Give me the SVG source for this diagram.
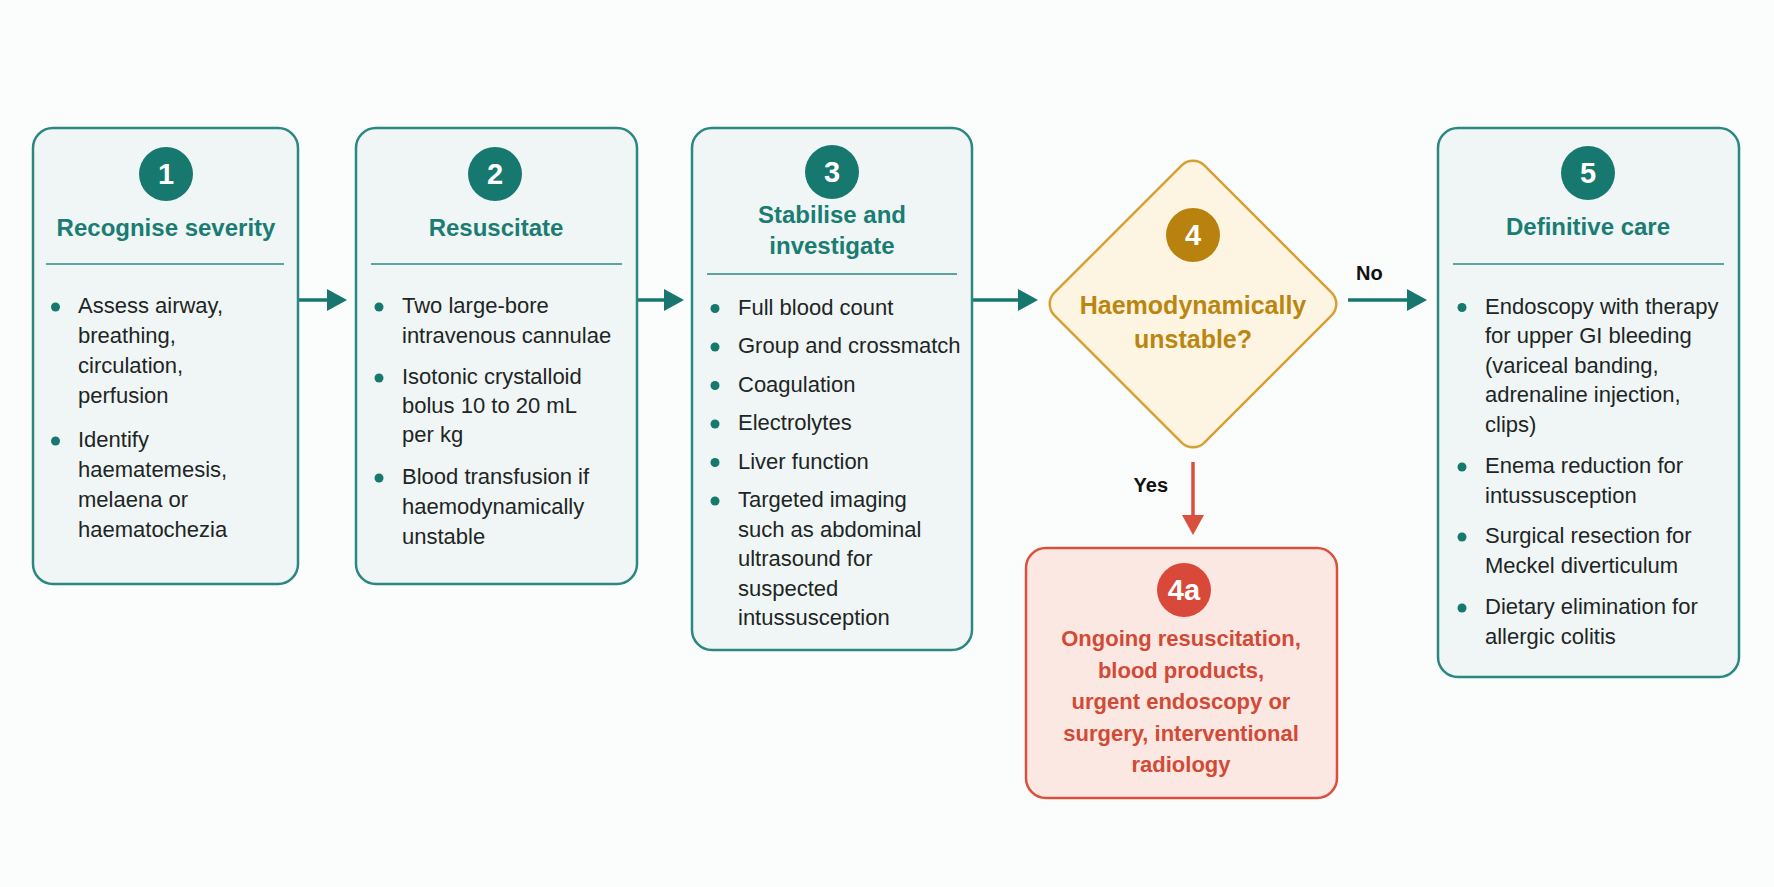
<svg xmlns="http://www.w3.org/2000/svg" width="1774" height="887" viewBox="0 0 1774 887">
<style>
.box{fill:#eff6f5;stroke:#2b8880;stroke-width:2.5}
.num{fill:#17786f}
.numt{font-family:"Liberation Sans",Arial,sans-serif;font-weight:bold;font-size:29px;fill:#ffffff;text-anchor:middle}
.title{font-family:"Liberation Sans",Arial,sans-serif;font-weight:bold;font-size:24px;fill:#1b7c73;text-anchor:middle}
.div{stroke:#2b8880;stroke-width:1.5}
.body{font-family:"Liberation Sans",Arial,sans-serif;font-size:22px;fill:#1e2524}
.dot{fill:#17786f}
.conn{stroke:#17776f;stroke-width:3.5;fill:none}
.yes{stroke:#d9513c;stroke-width:3.5;fill:none}
.lbl{font-family:"Liberation Sans",Arial,sans-serif;font-weight:bold;font-size:20px;fill:#111111}
.dtext{font-family:"Liberation Sans",Arial,sans-serif;font-weight:bold;font-size:25px;fill:#bb860f;text-anchor:middle}
.rtext{font-family:"Liberation Sans",Arial,sans-serif;font-weight:bold;font-size:22px;fill:#d24a35;text-anchor:middle}
</style>
<defs>
<marker id="ah" markerUnits="userSpaceOnUse" markerWidth="22" markerHeight="24" refX="2" refY="11" orient="auto">
<path d="M0,0 L20,11 L0,22 z" fill="#17776f"/>
</marker>
<marker id="ahr" markerUnits="userSpaceOnUse" markerWidth="22" markerHeight="24" refX="2" refY="11" orient="auto">
<path d="M0,0 L20,11 L0,22 z" fill="#d9513c"/>
</marker>
</defs>
<rect x="0" y="0" width="1774" height="887" fill="#fbfcfc"/>

<g id="connectors">
<line class="conn" x1="298" y1="300" x2="329" y2="300" marker-end="url(#ah)"/>
<line class="conn" x1="637" y1="300" x2="666" y2="300" marker-end="url(#ah)"/>
<line class="conn" x1="973" y1="300" x2="1020" y2="300" marker-end="url(#ah)"/>
<line class="conn" x1="1348" y1="300" x2="1409" y2="300" marker-end="url(#ah)"/>
<text class="lbl" x="1356" y="280">No</text>
<line class="yes" x1="1193" y1="462" x2="1193" y2="517" marker-end="url(#ahr)"/>
<text class="lbl" x="1168" y="492" text-anchor="end">Yes</text>
</g>

<g id="node1">
<rect class="box" x="33" y="128" width="265" height="456" rx="20"/>
<circle class="num" cx="166" cy="174" r="27"/>
<text class="numt" x="166" y="184">1</text>
<text class="title" x="166" y="236">Recognise severity</text>
<line class="div" x1="46" y1="264" x2="284" y2="264"/>
<circle class="dot" cx="55.5" cy="307" r="4.5"/>
<text class="body" x="78" y="313">Assess airway,</text>
<text class="body" x="78" y="343">breathing,</text>
<text class="body" x="78" y="373">circulation,</text>
<text class="body" x="78" y="403">perfusion</text>
<circle class="dot" cx="55.5" cy="441" r="4.5"/>
<text class="body" x="78" y="447">Identify</text>
<text class="body" x="78" y="477">haematemesis,</text>
<text class="body" x="78" y="507">melaena or</text>
<text class="body" x="78" y="537">haematochezia</text>
</g>

<g id="node2">
<rect class="box" x="356" y="128" width="281" height="456" rx="20"/>
<circle class="num" cx="495" cy="174" r="27"/>
<text class="numt" x="495" y="184">2</text>
<text class="title" x="496" y="236">Resuscitate</text>
<line class="div" x1="371" y1="264" x2="622" y2="264"/>
<circle class="dot" cx="379" cy="307" r="4.5"/>
<text class="body" x="402" y="313">Two large-bore</text>
<text class="body" x="402" y="343">intravenous cannulae</text>
<circle class="dot" cx="379" cy="378" r="4.5"/>
<text class="body" x="402" y="384">Isotonic crystalloid</text>
<text class="body" x="402" y="413">bolus 10 to 20 mL</text>
<text class="body" x="402" y="442">per kg</text>
<circle class="dot" cx="379" cy="478" r="4.5"/>
<text class="body" x="402" y="484">Blood transfusion if</text>
<text class="body" x="402" y="514">haemodynamically</text>
<text class="body" x="402" y="544">unstable</text>
</g>

<g id="node3">
<rect class="box" x="692" y="128" width="280" height="522" rx="20"/>
<circle class="num" cx="832" cy="172" r="27"/>
<text class="numt" x="832" y="182">3</text>
<text class="title" x="832" y="223">Stabilise and</text>
<text class="title" x="832" y="254">investigate</text>
<line class="div" x1="707" y1="274" x2="957" y2="274"/>
<circle class="dot" cx="715" cy="308.5" r="4.5"/>
<text class="body" x="738" y="314.5">Full blood count</text>
<circle class="dot" cx="715" cy="347" r="4.5"/>
<text class="body" x="738" y="353">Group and crossmatch</text>
<circle class="dot" cx="715" cy="385.5" r="4.5"/>
<text class="body" x="738" y="391.5">Coagulation</text>
<circle class="dot" cx="715" cy="424" r="4.5"/>
<text class="body" x="738" y="430">Electrolytes</text>
<circle class="dot" cx="715" cy="462.5" r="4.5"/>
<text class="body" x="738" y="468.5">Liver function</text>
<circle class="dot" cx="715" cy="501" r="4.5"/>
<text class="body" x="738" y="507">Targeted imaging</text>
<text class="body" x="738" y="536.5">such as abdominal</text>
<text class="body" x="738" y="566">ultrasound for</text>
<text class="body" x="738" y="595.5">suspected</text>
<text class="body" x="738" y="625">intussusception</text>
</g>

<g id="node4">
<rect x="-106" y="-106" width="212" height="212" rx="16" transform="translate(1193,304) rotate(45)" fill="#fdf5e2" stroke="#d6a034" stroke-width="2.5"/>
<circle cx="1193" cy="235" r="27" fill="#b9820e"/>
<text class="numt" x="1193" y="245">4</text>
<text class="dtext" x="1193" y="314">Haemodynamically</text>
<text class="dtext" x="1193" y="348">unstable?</text>
</g>

<g id="node4a">
<rect x="1026" y="548" width="311" height="250" rx="20" fill="#fbe8e3" stroke="#d9513c" stroke-width="2.5"/>
<circle cx="1184" cy="590" r="27" fill="#d9493a"/>
<text class="numt" x="1184" y="600">4a</text>
<text class="rtext" x="1181" y="646">Ongoing resuscitation,</text>
<text class="rtext" x="1181" y="677.5">blood products,</text>
<text class="rtext" x="1181" y="709">urgent endoscopy or</text>
<text class="rtext" x="1181" y="740.5">surgery, interventional</text>
<text class="rtext" x="1181" y="772">radiology</text>
</g>

<g id="node5">
<rect class="box" x="1438" y="128" width="301" height="549" rx="20"/>
<circle class="num" cx="1588" cy="173" r="27"/>
<text class="numt" x="1588" y="183">5</text>
<text class="title" x="1588" y="235">Definitive care</text>
<line class="div" x1="1453" y1="264" x2="1724" y2="264"/>
<circle class="dot" cx="1462" cy="307.5" r="4.5"/>
<text class="body" x="1485" y="313.5">Endoscopy with therapy</text>
<text class="body" x="1485" y="343">for upper GI bleeding</text>
<text class="body" x="1485" y="372.5">(variceal banding,</text>
<text class="body" x="1485" y="402">adrenaline injection,</text>
<text class="body" x="1485" y="431.5">clips)</text>
<circle class="dot" cx="1462" cy="467" r="4.5"/>
<text class="body" x="1485" y="473">Enema reduction for</text>
<text class="body" x="1485" y="502.5">intussusception</text>
<circle class="dot" cx="1462" cy="537" r="4.5"/>
<text class="body" x="1485" y="543">Surgical resection for</text>
<text class="body" x="1485" y="572.5">Meckel diverticulum</text>
<circle class="dot" cx="1462" cy="608" r="4.5"/>
<text class="body" x="1485" y="614">Dietary elimination for</text>
<text class="body" x="1485" y="643.5">allergic colitis</text>
</g>
</svg>
